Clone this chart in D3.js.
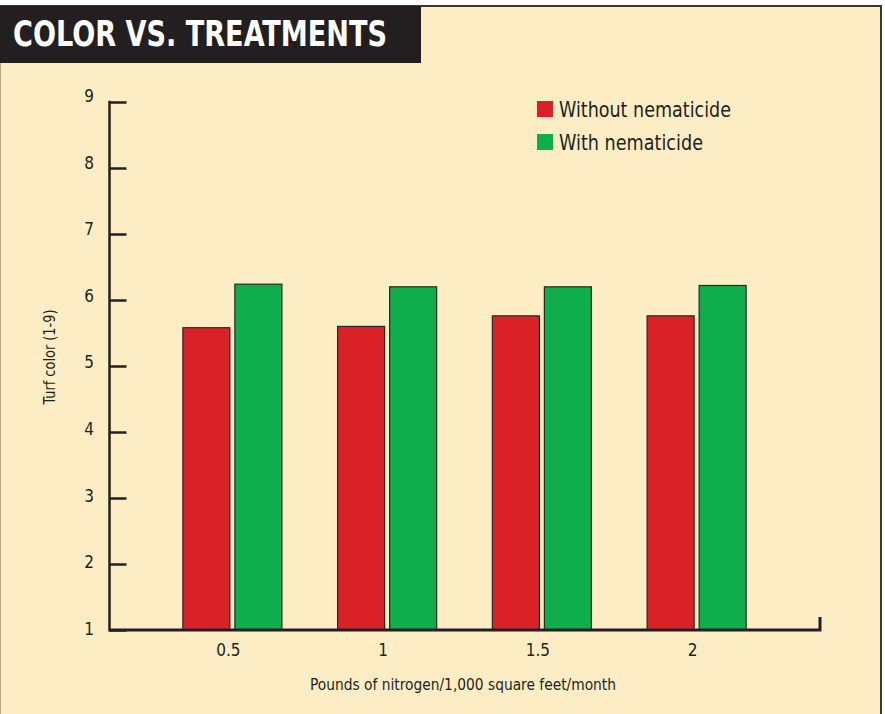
<!DOCTYPE html>
<html><head><meta charset="utf-8">
<script src="https://cdn.jsdelivr.net/npm/d3@7"></script>
<style>
html,body{margin:0;padding:0;background:#fff;}
svg{display:block;}
text{font-family:"Liberation Sans Narrow","Arial Narrow","DejaVu Sans Condensed",sans-serif;fill:#231f20;}
</style></head>
<body>
<script>
const title = "COLOR VS. TREATMENTS";
const categories = ["0.5", "1", "1.5", "2"];
const seriesNames = ["Without nematicide", "With nematicide"];
const withoutNematicide = [5.58, 5.60, 5.76, 5.76];
const withNematicide = [6.24, 6.20, 6.20, 6.22];
const yTicks = [1, 2, 3, 4, 5, 6, 7, 8, 9];
const yTitle = "Turf color (1-9)";
const xTitle = "Pounds of nitrogen/1,000 square feet/month";
const colors = ["#da2128", "#0dae4b"];

const W = 885, H = 714;
const ink = "#231f20";
const svg = d3.select("body").append("svg").attr("width", W).attr("height", H);

// frame
svg.append("rect").attr("x", 0).attr("y", 0).attr("width", W).attr("height", H).attr("fill", "#fff");
svg.append("rect").attr("x", 0).attr("y", 6).attr("width", 881).attr("height", H - 6).attr("fill", "#fdedc4");
svg.append("line").attr("x1", 0).attr("x2", 882).attr("y1", 6).attr("y2", 6).attr("stroke", "#3a3536").attr("stroke-width", 2);
svg.append("line").attr("x1", 881).attr("x2", 881).attr("y1", 5).attr("y2", H).attr("stroke", "#3a3536").attr("stroke-width", 2);
svg.append("line").attr("x1", 0.5).attr("x2", 0.5).attr("y1", 6).attr("y2", H).attr("stroke", "#b9a98a").attr("stroke-width", 1);

// title box
svg.append("rect").attr("x", 0).attr("y", 6).attr("width", 421).attr("height", 57).attr("fill", ink);
svg.append("text").text(title).attr("x", 13).attr("y", 46)
  .attr("font-size", 35).attr("font-weight", "bold").style("fill", "#fff")
  .attr("textLength", 374).attr("lengthAdjust", "spacingAndGlyphs");

// scales
const y = d3.scaleLinear().domain([1, 9]).range([630, 102]);
const yLab = d3.scaleLinear().domain([1, 9]).range([629, 96]);
const x0 = d3.scaleBand().domain(categories).range([155, 774]).paddingInner(0.36).paddingOuter(0.18);
const x1 = d3.scaleBand().domain(seriesNames).range([0, x0.bandwidth()]).paddingInner(0.096);

const data = categories.map((c, i) => ({cat: c, vals: [withoutNematicide[i], withNematicide[i]]}));

// bars
const g = svg.append("g");
const groups = g.selectAll("g.grp").data(data).join("g").attr("class", "grp")
  .attr("transform", d => `translate(${x0(d.cat)},0)`);
groups.selectAll("rect").data(d => d.vals.map((v, j) => ({name: seriesNames[j], v, j})))
  .join("rect")
  .attr("x", d => x1(d.name)).attr("width", x1.bandwidth())
  .attr("y", d => y(d.v)).attr("height", d => y(1) - y(d.v))
  .attr("fill", d => colors[d.j]).attr("stroke", "#2b2627").attr("stroke-width", 1.2);

// y axis lines + ticks
const axX = 109.5;
const yAxisTicks = svg.append("g").attr("transform", `translate(${axX},0)`)
  .call(d3.axisRight(y).tickValues(yTicks).tickSize(17).tickFormat(""));
yAxisTicks.select(".domain").remove();
yAxisTicks.selectAll(".tick line").attr("stroke", ink).attr("stroke-width", 2.5);
svg.append("line").attr("x1", axX).attr("x2", axX).attr("y1", y(9) - 1.2).attr("y2", y(1) + 1.5)
  .attr("stroke", ink).attr("stroke-width", 2.5);

// y tick labels
const yLabels = svg.append("g").attr("transform", `translate(94,0)`)
  .call(d3.axisLeft(yLab).tickValues(yTicks).tickSize(0).tickPadding(0).tickFormat(d3.format("d")));
yLabels.select(".domain").remove();
yLabels.selectAll("text").attr("font-size", 17).style("font-family", null).attr("font-family", null);

// x axis
svg.append("path")
  .attr("d", `M${axX},${y(1)}H820V617`)
  .attr("fill", "none").attr("stroke", ink).attr("stroke-width", 3);
const xAxis = svg.append("g").attr("transform", `translate(-4,${y(1)})`)
  .call(d3.axisBottom(x0).tickSize(0).tickPadding(14));
xAxis.select(".domain").remove();
xAxis.selectAll("text").attr("font-size", 17).style("font-family", null).attr("font-family", null);

// axis titles
svg.append("text").text(xTitle).attr("x", 463).attr("y", 690)
  .attr("text-anchor", "middle").attr("font-size", 16)
  .attr("textLength", 306).attr("lengthAdjust", "spacingAndGlyphs");
svg.append("text").text(yTitle)
  .attr("transform", "translate(55,357) rotate(-90)")
  .attr("text-anchor", "middle").attr("font-size", 16)
  .attr("textLength", 95).attr("lengthAdjust", "spacingAndGlyphs");

// legend
const leg = svg.append("g").selectAll("g").data(seriesNames).join("g")
  .attr("transform", (d, i) => `translate(537,${101 + i * 33})`);
leg.append("rect").attr("width", 16).attr("height", 16).attr("fill", (d, i) => colors[i]);
leg.append("text").text(d => d).attr("x", 22).attr("y", 16).attr("font-size", 21)
  .attr("textLength", (d, i) => i === 0 ? 172 : 144).attr("lengthAdjust", "spacingAndGlyphs");
</script>
</body></html>
